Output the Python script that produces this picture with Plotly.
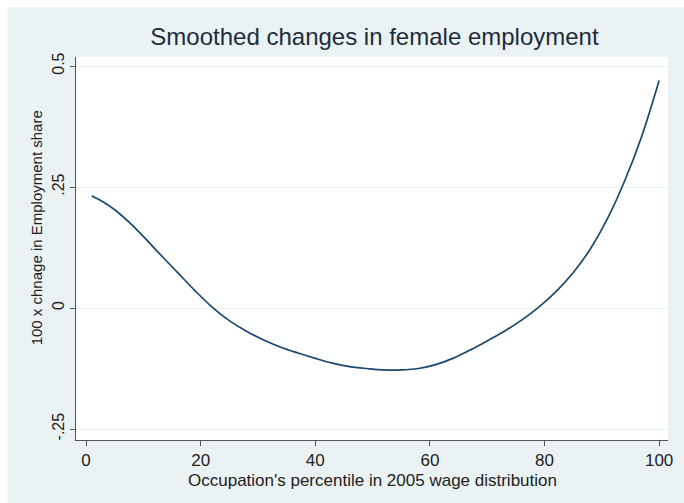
import plotly.graph_objects as go

# Occupation percentile in the 2005 wage distribution
percentile = [1, 3, 5, 8, 10, 13, 16, 19, 22, 25, 28, 31, 34, 37, 40, 43, 46,
              49, 52, 55, 58, 61, 64, 67, 70, 73, 76, 79, 82, 85, 88, 91, 94,
              97, 100]
# Smoothed 100 x change in employment share
emp_change = [0.232, 0.219, 0.203, 0.172, 0.148, 0.110, 0.073, 0.036, 0.002,
              -0.026, -0.048, -0.066, -0.081, -0.093, -0.104, -0.114, -0.121,
              -0.125, -0.128, -0.128, -0.125, -0.117, -0.104, -0.087, -0.068,
              -0.048, -0.025, 0.002, 0.034, 0.073, 0.122, 0.185, 0.263,
              0.356, 0.470]

x_ticks = [0, 20, 40, 60, 80, 100]
y_ticks = [-0.25, 0, 0.25, 0.5]
y_tick_labels = ["-.25", "0", ".25", "0.5"]

title_text = "Smoothed changes in female employment"
x_title = "Occupation's percentile in 2005 wage distribution"
y_title = "100 x chnage in Employment share"

navy = "#1a476f"
region_bg = "#eaf2f3"
axis_col = "#555555"
text_col = "#222222"
font_family = "Liberation Sans, Arial, sans-serif"

fig = go.Figure()
fig.add_trace(go.Scatter(
    x=percentile, y=emp_change, mode="lines",
    line=dict(color=navy, width=1.7, shape="spline", smoothing=1.0),
    hoverinfo="skip", showlegend=False,
))

W, H = 684, 503
L, R, T, B = 76, 11, 57, 63
pw, ph = W - L - R, H - T - B


def px_x(px):
    return (px - L) / pw


def px_y(py):
    return (T + ph - py) / ph


# white page edge above and left of the graph region
fig.add_shape(type="rect", xref="paper", yref="paper",
              x0=px_x(0) - 0.1, x1=px_x(W) + 0.1,
              y0=px_y(7), y1=px_y(0) + 0.1,
              fillcolor="white", line_width=0, layer="below")
fig.add_shape(type="rect", xref="paper", yref="paper",
              x0=px_x(0) - 0.1, x1=px_x(7),
              y0=px_y(H) - 0.1, y1=px_y(0) + 0.1,
              fillcolor="white", line_width=0, layer="below")

# axis titles
fig.add_annotation(text=x_title, xref="paper", yref="paper",
                   x=px_x(375), y=px_y(470), xanchor="center", yanchor="top",
                   showarrow=False, borderpad=0,
                   font=dict(size=17, color=text_col))
fig.add_annotation(text=y_title, xref="paper", yref="paper", textangle=-90,
                   x=px_x(36), y=px_y(228), xanchor="center", yanchor="middle",
                   showarrow=False, font=dict(size=15, color=text_col))

fig.update_layout(
    width=W, height=H,
    margin=dict(l=L, r=R, t=T, b=B, pad=0),
    paper_bgcolor=region_bg, plot_bgcolor="white",
    font=dict(family=font_family, color=text_col),
    title=dict(text=title_text,
               x=(L + pw / 2) / W, xanchor="center",
               y=1 - 37 / H, yanchor="middle",
               font=dict(size=24, color="#1e2d3c")),
)
fig.update_xaxes(
    range=[-1.75, 101.55], tickvals=x_ticks,
    showgrid=False, zeroline=False,
    showline=True, linecolor=axis_col, linewidth=1,
    ticks="outside", ticklen=5, tickcolor=axis_col,
    tickfont=dict(size=17, color=text_col),
)
fig.update_yaxes(
    range=[-0.2727, 0.5186], tickvals=y_ticks, ticktext=y_tick_labels,
    tickangle=-90,
    showgrid=True, gridcolor=region_bg, gridwidth=1, zeroline=False,
    showline=True, linecolor=axis_col, linewidth=1,
    ticks="outside", ticklen=5, tickcolor=axis_col,
    tickfont=dict(size=16, color=text_col),
)

fig.write_html("out.html")
